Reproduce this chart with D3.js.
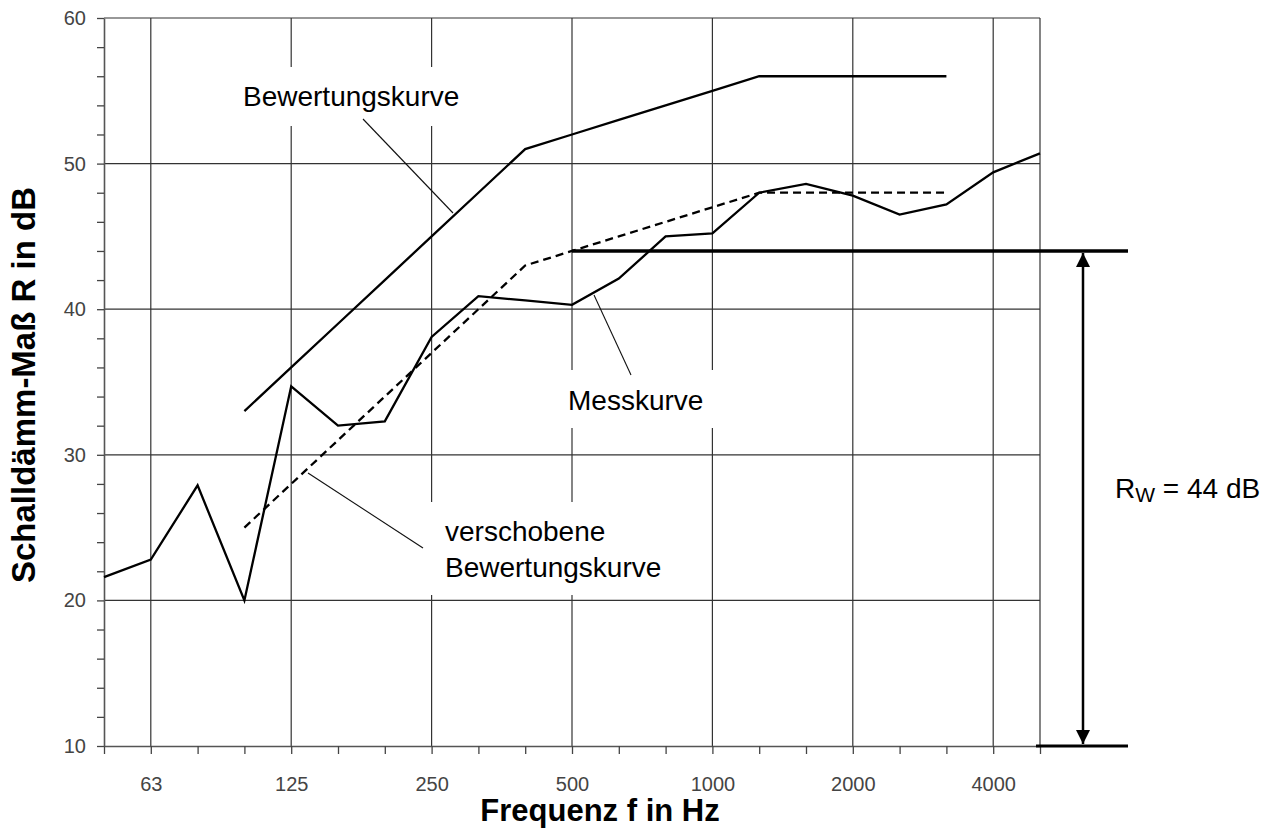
<!DOCTYPE html>
<html>
<head>
<meta charset="utf-8">
<script src="https://cdn.jsdelivr.net/npm/d3@7"></script>
<style>
  body { margin: 0; background: #fff; }
  text { font-family: "Liberation Sans", Arial, sans-serif; }
</style>
</head>
<body>
<div id="chart"></div>
<script>
/* Schalldämm-Maß: Messkurve vs. Bewertungskurve */

// third-octave bands
const freqs = ["50", "63", "80", "100", "125", "160", "200", "250", "315", "400", "500",
    "630", "800", "1000", "1250", "1600", "2000", "2500", "3150", "4000", "5000"];
const labelled = ["63", "125", "250", "500", "1000", "2000", "4000"];

// measured curve, 50 .. 5000 Hz
const messkurve = [21.6, 22.8, 27.9, 20.0, 34.7, 32.0, 32.3, 38.1, 40.9, 40.6, 40.3,
    42.1, 45.0, 45.2, 48.0, 48.6, 47.8, 46.5, 47.2, 49.4, 50.7];

// reference curve, 100 .. 3150 Hz
const refFreqs = ["100", "125", "160", "200", "250", "315", "400", "500",
    "630", "800", "1000", "1250", "1600", "2000", "2500", "3150"];
const bewertung = [33, 36, 39, 42, 45, 48, 51, 52, 53, 54, 55, 56, 56, 56, 56, 56];
const verschoben = [25, 28, 31, 34, 37, 40, 43, 44, 45, 46, 47, 48, 48, 48, 48, 48];

const yTicks = [10, 20, 30, 40, 50, 60];
const rw = 44;

const width = 1279,
    height = 830,
    margin = ({ top: 18, right: 239, bottom: 84, left: 104 });

const svg = d3.select("#chart")
    .append("svg")
    .attr("width", width)
    .attr("height", height)
    .attr("viewBox", [0, 0, width, height]);

let x = d3.scalePoint()
    .domain(freqs)
    .range([margin.left, width - margin.right]);

let y = d3.scaleLinear()
    .domain([10, 60])
    .range([height - margin.bottom, margin.top]);

const x0 = x.range()[0], x1 = x.range()[1];
const yb = y(10), yt = y(60);

// grid
const grid = svg.append("g").attr("stroke", "#333").attr("stroke-width", 1.2);
grid.selectAll(".h")
    .data(yTicks.slice(1))
    .join("line")
    .attr("x1", x0).attr("x2", x1)
    .attr("y1", d => y(d)).attr("y2", d => y(d));
grid.selectAll(".v")
    .data(labelled.concat(["5000"]))
    .join("line")
    .attr("x1", d => x(d)).attr("x2", d => x(d))
    .attr("y1", yt).attr("y2", yb);

// white boxes that cut the grid behind the labels
const boxes = [
    [236, 67, 240, 59],
    [558, 370, 160, 58],
    [424, 502, 260, 93]
];
svg.append("g").selectAll("rect")
    .data(boxes)
    .join("rect")
    .attr("x", d => d[0]).attr("y", d => d[1])
    .attr("width", d => d[2]).attr("height", d => d[3])
    .attr("fill", "#fff");

// axes
const xAxis = svg.append("g")
    .attr("transform", `translate(0,${yb})`)
    .call(d3.axisBottom(x)
        .tickValues(freqs)
        .tickSize(8)
        .tickSizeOuter(0)
        .tickPadding(23)
        .tickFormat(d => labelled.includes(d) ? d : ""));

const yAxis = svg.append("g")
    .attr("transform", `translate(${x0},0)`)
    .call(d3.axisLeft(y)
        .tickValues(d3.range(10, 61, 2))
        .tickSize(7)
        .tickSizeOuter(0)
        .tickPadding(11)
        .tickFormat(d => d % 10 === 0 ? d : ""));

for (const ax of [xAxis, yAxis]) {
    ax.select(".domain").attr("stroke", "#555").attr("stroke-width", 1.6);
    ax.selectAll(".tick line").attr("stroke", "#444").attr("stroke-width", 1.3);
    ax.selectAll(".tick text")
        .attr("fill", "#444")
        .attr("font-size", 20)
        .attr("font-family", "Liberation Sans, Arial, sans-serif");
}

// axis titles
svg.append("text")
    .attr("text-anchor", "middle")
    .attr("x", 600)
    .attr("y", 821)
    .attr("font-size", 31)
    .attr("font-weight", "bold")
    .text("Frequenz f in Hz");

svg.append("text")
    .attr("text-anchor", "middle")
    .attr("transform", "translate(35,385) rotate(-90)")
    .attr("font-size", 33)
    .attr("font-weight", "bold")
    .text("Schalldämm-Maß R in dB");

// leader lines
const leaders = [
    [363, 119, 453, 213],
    [594, 295, 631, 375],
    [308, 473, 423, 548]
];
svg.append("g").selectAll("line")
    .data(leaders)
    .join("line")
    .attr("x1", d => d[0]).attr("y1", d => d[1])
    .attr("x2", d => d[2]).attr("y2", d => d[3])
    .attr("stroke", "#111")
    .attr("stroke-width", 1.1);

// curves
let line = d3.line()
    .x(d => x(d[0]))
    .y(d => y(d[1]));

svg.append("path")
    .datum(d3.zip(freqs, messkurve))
    .attr("d", line)
    .attr("fill", "none")
    .attr("stroke", "#000")
    .attr("stroke-width", 2.3);

svg.append("path")
    .datum(d3.zip(refFreqs, bewertung))
    .attr("d", line)
    .attr("fill", "none")
    .attr("stroke", "#000")
    .attr("stroke-width", 2.3);

svg.append("path")
    .datum(d3.zip(refFreqs, verschoben))
    .attr("d", line)
    .attr("fill", "none")
    .attr("stroke", "#000")
    .attr("stroke-width", 2.3)
    .attr("stroke-dasharray", "8,5");

// R_w marker lines and arrow
const xEnd = 1128, xArrow = 1083;
svg.append("line")
    .attr("x1", x("500")).attr("x2", xEnd)
    .attr("y1", y(rw)).attr("y2", y(rw))
    .attr("stroke", "#000").attr("stroke-width", 3.5);
svg.append("line")
    .attr("x1", x("5000") - 4).attr("x2", xEnd)
    .attr("y1", y(10)).attr("y2", y(10))
    .attr("stroke", "#000").attr("stroke-width", 3);

svg.append("defs").append("marker")
    .attr("id", "head")
    .attr("viewBox", "0 0 10 10")
    .attr("refX", 10).attr("refY", 5)
    .attr("markerUnits", "userSpaceOnUse")
    .attr("markerWidth", 15).attr("markerHeight", 14)
    .attr("orient", "auto-start-reverse")
    .append("path")
    .attr("d", "M0,0L10,5L0,10Z")
    .attr("fill", "#000");

svg.append("line")
    .attr("x1", xArrow).attr("x2", xArrow)
    .attr("y1", y(rw) + 2).attr("y2", y(10) - 2)
    .attr("stroke", "#000").attr("stroke-width", 2.5)
    .attr("marker-start", "url(#head)")
    .attr("marker-end", "url(#head)");

// labels
const lab = svg.append("g").attr("font-size", 28).attr("fill", "#000");
lab.append("text").attr("x", 243).attr("y", 106).text("Bewertungskurve");
lab.append("text").attr("x", 568).attr("y", 410).text("Messkurve");
lab.append("text").attr("x", 445).attr("y", 541).text("verschobene");
lab.append("text").attr("x", 445).attr("y", 577).text("Bewertungskurve");

const rwText = lab.append("text").attr("x", 1115).attr("y", 498);
rwText.append("tspan").text("R");
rwText.append("tspan").attr("font-size", 21).attr("dy", 4).text("W");
rwText.append("tspan").attr("dy", -4).text(" = 44 dB");
</script>
</body>
</html>
